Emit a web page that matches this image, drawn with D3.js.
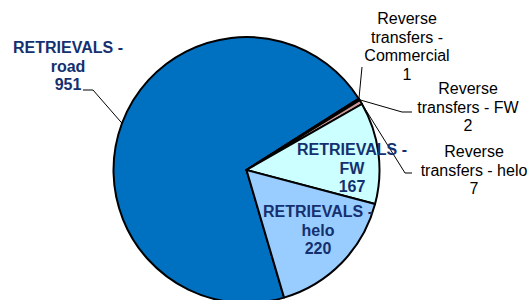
<!DOCTYPE html>
<html>
<head>
<meta charset="utf-8">
<script src="https://cdn.jsdelivr.net/npm/d3@7"></script>
<style>
  body { margin: 0; background: #fff; }
  text { font-family: Arial, "Liberation Sans", sans-serif; font-size: 16px; }
</style>
</head>
<body>
<div id="chart"></div>
<script>
// data
const categories = [
  'RETRIEVALS - road',
  'Reverse transfers - Commercial',
  'Reverse transfers - FW',
  'Reverse transfers - helo',
  'RETRIEVALS - FW',
  'RETRIEVALS - helo'
];
const values = [951, 1, 2, 7, 167, 220];
const nameLines = [
  ['RETRIEVALS -', 'road'],
  ['Reverse', 'transfers -', 'Commercial'],
  ['Reverse', 'transfers - FW'],
  ['Reverse', 'transfers - helo'],
  ['RETRIEVALS -', 'FW'],
  ['RETRIEVALS -', 'helo']
];
const colors = ['#0070C0', '#CC9999', '#CC9999', '#CC9999', '#CCFFFF', '#99CCFF'];

const width = 528, height = 300;
const cx = 246.5, cy = 170, radius = 133;
const startDeg = 163.6;

// label placement (first baseline, centre x, leader elbow points)
const labelPos = [
  { x: 68,  y: 53,  bold: true,  leader: [[93, 90], [83, 90]] },
  { x: 407, y: 24,  bold: false, leader: [[362, 67]] },
  { x: 468, y: 94,  bold: false, leader: [[402, 112], [412, 112]] },
  { x: 474, y: 157, bold: false, leader: [[405, 173], [412, 173]] },
  { x: 352, y: 155, bold: true,  leader: null },
  { x: 318, y: 217, bold: true,  leader: null }
];
const lineH = 18.7;

const data = categories.map((c, i) => ({ name: c, value: values[i], lines: nameLines[i], color: colors[i], pos: labelPos[i] }));

const pie = d3.pie()
  .value(d => d.value)
  .sort(null)
  .startAngle(startDeg * Math.PI / 180)
  .endAngle(startDeg * Math.PI / 180 + 2 * Math.PI);

const arc = d3.arc().innerRadius(0).outerRadius(radius);
const edgeArc = d3.arc().innerRadius(radius).outerRadius(radius);

const svg = d3.select('#chart')
  .append('svg')
    .attr('width', width)
    .attr('height', height);

const g = svg.append('g')
  .attr('transform', `translate(${cx}, ${cy})`);

const arcs = pie(data);

g.selectAll('path.slice')
  .data(arcs)
  .enter().append('path')
    .attr('class', 'slice')
    .attr('fill', d => d.data.color)
    .attr('stroke', '#000')
    .attr('stroke-width', 2)
    .attr('stroke-linejoin', 'round')
    .attr('d', arc);

// leader lines
arcs.forEach(d => {
  if (!d.data.pos.leader) return;
  const [ex, ey] = edgeArc.centroid(d);
  const pts = [[ex + cx, ey + cy]].concat(d.data.pos.leader);
  svg.append('path')
    .attr('fill', 'none')
    .attr('stroke', '#000')
    .attr('stroke-width', 1)
    .attr('d', d3.line()(pts));
});

// labels
arcs.forEach(d => {
  const p = d.data.pos;
  const t = svg.append('text')
    .attr('text-anchor', 'middle')
    .attr('fill', p.bold ? '#14306E' : '#000')
    .attr('font-weight', p.bold ? 'bold' : 'normal');
  d.data.lines.concat([String(d.data.value)]).forEach((s, i) => {
    t.append('tspan')
      .attr('x', p.x)
      .attr('y', p.y + i * lineH)
      .text(s);
  });
});
</script>
</body>
</html>
